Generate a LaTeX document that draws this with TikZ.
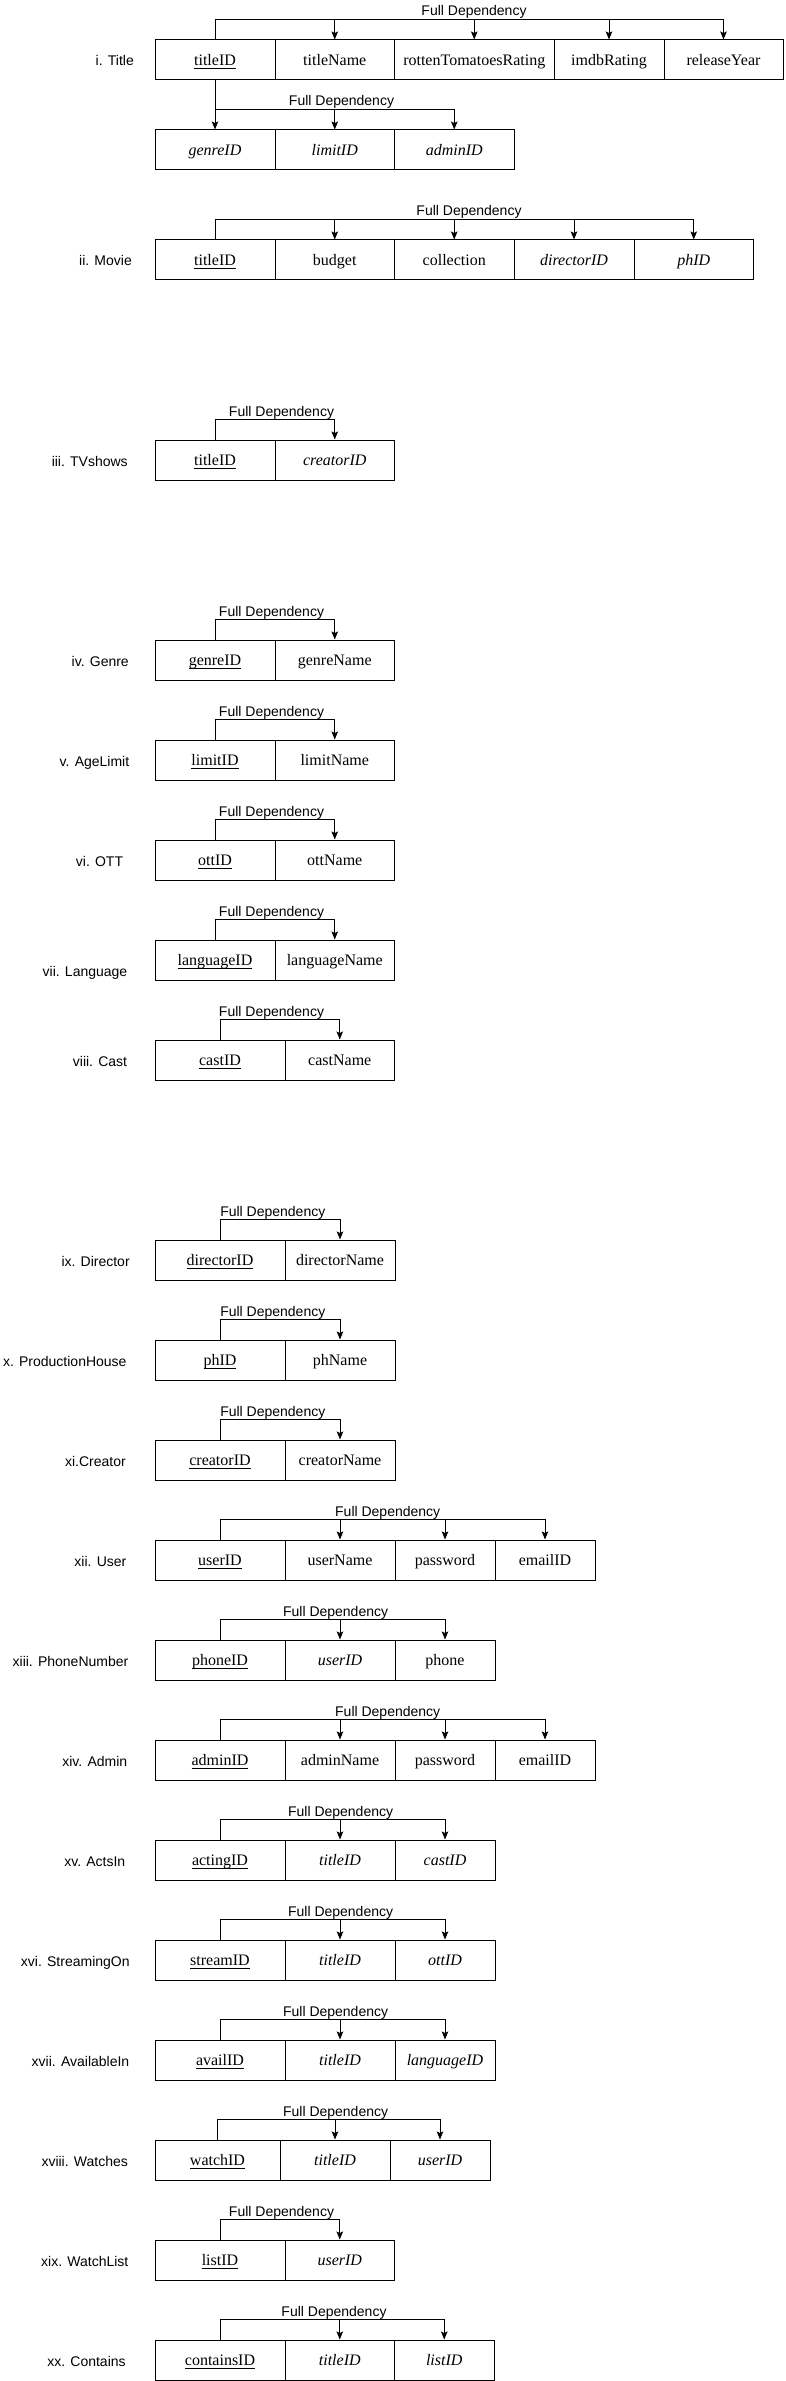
\documentclass[tikz,border=0pt]{standalone}
\usepackage{fontspec}
\setmainfont{Liberation Serif}
\newfontfamily\labfont{Liberation Sans}
\usetikzlibrary{arrows.meta}
\newcommand{\keyu}[1]{\setbox0=\hbox{#1}\makebox[0pt][l]{\rule[-3.3pt]{\wd0}{1pt}}\box0}
\tikzset{
  cell/.style={draw, line width=1pt, minimum height=40pt, inner sep=0pt, text height=11.4pt, text depth=0pt, font=\fontsize{16}{19}\selectfont},
  fd/.style={font=\labfont\fontsize{14}{16}\selectfont, inner sep=0pt, text height=10pt, text depth=0pt},
  rel/.style={font=\labfont\fontsize{14}{16}\selectfont, inner sep=0pt, text height=10pt, text depth=0pt},
  arr/.style={line width=1pt, -{Stealth[length=8pt,width=6.5pt,inset=1.5pt]}}
}
\begin{document}
\begin{tikzpicture}[x=1pt,y=-1pt]
\fill[white] (0,0) rectangle (786,2381);
\useasboundingbox (0,0) rectangle (786,2381);

% i. Title
\node[rel] (relT) at (114.75,61) {i. Title};
\node[cell,minimum width=120pt] (Ta) at (215,60) {\keyu{titleID}};
\node[cell,minimum width=119.5pt] (Tb) at (334.75,60) {titleName};
\node[cell,minimum width=159.5pt] (Tc) at (474.25,60) {rottenTomatoesRating};
\node[cell,minimum width=110pt] (Td) at (609,60) {imdbRating};
\node[cell,minimum width=119pt] (Te) at (723.5,60) {releaseYear};
\node[fd] (fdT) at (474,11) {Full Dependency};
\draw[arr] (Ta.north) -- ++(0,-20) -| (Te.north);
\foreach \n in {Tb,Tc,Td} \draw[arr] ([yshift=20pt]\n.north) -- (\n.north);

\node[cell,minimum width=120pt] (Ua) at (215,150) {\textit{genreID}};
\node[cell,minimum width=119.5pt] (Ub) at (334.75,150) {\textit{limitID}};
\node[cell,minimum width=119.5pt] (Uc) at (454.25,150) {\textit{adminID}};
\node[fd] (fdU) at (341.5,101) {Full Dependency};
\draw[arr] (Ta.south) -- (Ua.north);
\draw[arr] ([yshift=20pt]Ua.north) -| (Uc.north);
\draw[arr] ([yshift=20pt]Ub.north) -- (Ub.north);

% ii. Movie
\node[rel] (relM) at (105.5,261) {ii. Movie};
\node[cell,minimum width=120pt] (Ma) at (215,260) {\keyu{titleID}};
\node[cell,minimum width=119.5pt] (Mb) at (334.75,260) {budget};
\node[cell,minimum width=119.5pt] (Mc) at (454.25,260) {collection};
\node[cell,minimum width=120pt] (Md) at (574,260) {\textit{directorID}};
\node[cell,minimum width=119.5pt] (Me) at (693.75,260) {\textit{phID}};
\node[fd] (fdM) at (469,211) {Full Dependency};
\draw[arr] (Ma.north) -- ++(0,-20) -| (Me.north);
\foreach \n in {Mb,Mc,Md} \draw[arr] ([yshift=20pt]\n.north) -- (\n.north);

% iii. TVshows
\node[rel] (relV) at (89.75,461) {iii. TVshows};
\node[cell,minimum width=120pt] (Va) at (215,460) {\keyu{titleID}};
\node[cell,minimum width=119.5pt] (Vb) at (334.75,460) {\textit{creatorID}};
\node[fd] (fdV) at (281.5,411) {Full Dependency};
\draw[arr] (Va.north) -- ++(0,-20) -| (Vb.north);

% iv. Genre
\node[rel] (relG) at (100.25,661) {iv. Genre};
\node[cell,minimum width=120pt] (Ga) at (215,660) {\keyu{genreID}};
\node[cell,minimum width=119.5pt] (Gb) at (334.75,660) {genreName};
\node[fd] (fdG) at (271.5,611) {Full Dependency};
\draw[arr] (Ga.north) -- ++(0,-20) -| (Gb.north);

% v. AgeLimit
\node[rel] (relL) at (94.5,761) {v. AgeLimit};
\node[cell,minimum width=120pt] (La) at (215,760) {\keyu{limitID}};
\node[cell,minimum width=119.5pt] (Lb) at (334.75,760) {limitName};
\node[fd] (fdL) at (271.5,711) {Full Dependency};
\draw[arr] (La.north) -- ++(0,-20) -| (Lb.north);

% vi. OTT
\node[rel] (relO) at (99.5,861) {vi. OTT};
\node[cell,minimum width=120pt] (Oa) at (215,860) {\keyu{ottID}};
\node[cell,minimum width=119.5pt] (Ob) at (334.75,860) {ottName};
\node[fd] (fdO) at (271.5,811) {Full Dependency};
\draw[arr] (Oa.north) -- ++(0,-20) -| (Ob.north);

% vii. Language
\node[rel] (relN) at (85,971.5) {vii. Language};
\node[cell,minimum width=120pt] (Na) at (215,960) {\keyu{languageID}};
\node[cell,minimum width=119.5pt] (Nb) at (334.75,960) {languageName};
\node[fd] (fdN) at (271.5,911) {Full Dependency};
\draw[arr] (Na.north) -- ++(0,-20) -| (Nb.north);

% viii. Cast
\node[rel] (relC) at (100,1061) {viii. Cast};
\node[cell,minimum width=130pt] (Ca) at (220,1060) {\keyu{castID}};
\node[cell,minimum width=109.5pt] (Cb) at (339.75,1060) {castName};
\node[fd] (fdC) at (271.5,1011) {Full Dependency};
\draw[arr] (Ca.north) -- ++(0,-20) -| (Cb.north);

% ix. Director
\node[rel] (relD) at (95.6,1261) {ix. Director};
\node[cell,minimum width=130pt] (Da) at (220,1260) {\keyu{directorID}};
\node[cell,minimum width=110pt] (Db) at (340,1260) {directorName};
\node[fd] (fdD) at (272.8,1211) {Full Dependency};
\draw[arr] (Da.north) -- ++(0,-20) -| (Db.north);

% x. ProductionHouse
\node[rel] (relP) at (64.8,1361) {x. ProductionHouse};
\node[cell,minimum width=130pt] (Pa) at (220,1360) {\keyu{phID}};
\node[cell,minimum width=110pt] (Pb) at (340,1360) {phName};
\node[fd] (fdP) at (272.8,1311) {Full Dependency};
\draw[arr] (Pa.north) -- ++(0,-20) -| (Pb.north);

% xi. Creator
\node[rel] (relR) at (95.4,1461) {xi.Creator};
\node[cell,minimum width=130pt] (Ra) at (220,1460) {\keyu{creatorID}};
\node[cell,minimum width=110pt] (Rb) at (340,1460) {creatorName};
\node[fd] (fdR) at (272.8,1411) {Full Dependency};
\draw[arr] (Ra.north) -- ++(0,-20) -| (Rb.north);

% xii. User
\node[rel] (relS) at (100.4,1561) {xii. User};
\node[cell,minimum width=130pt] (Sa) at (220,1560) {\keyu{userID}};
\node[cell,minimum width=110pt] (Sb) at (340,1560) {userName};
\node[cell,minimum width=100pt] (Sc) at (445,1560) {password};
\node[cell,minimum width=100pt] (Sd) at (545,1560) {emailID};
\node[fd] (fdS) at (387.7,1511) {Full Dependency};
\draw[arr] (Sa.north) -- ++(0,-20) -| (Sd.north);
\foreach \n in {Sb,Sc} \draw[arr] ([yshift=20pt]\n.north) -- (\n.north);

% xiii. PhoneNumber
\node[rel] (relH) at (70.5,1661) {xiii. PhoneNumber};
\node[cell,minimum width=130pt] (Ha) at (220,1660) {\keyu{phoneID}};
\node[cell,minimum width=110pt] (Hb) at (340,1660) {\textit{userID}};
\node[cell,minimum width=100pt] (Hc) at (445,1660) {phone};
\node[fd] (fdH) at (335.6,1611) {Full Dependency};
\draw[arr] (Ha.north) -- ++(0,-20) -| (Hc.north);
\draw[arr] ([yshift=20pt]Hb.north) -- (Hb.north);

% xiv. Admin
\node[rel] (relA) at (94.8,1761) {xiv. Admin};
\node[cell,minimum width=130pt] (Aa) at (220,1760) {\keyu{adminID}};
\node[cell,minimum width=110pt] (Ab) at (340,1760) {adminName};
\node[cell,minimum width=100pt] (Ac) at (445,1760) {password};
\node[cell,minimum width=100pt] (Ad) at (545,1760) {emailID};
\node[fd] (fdA) at (387.7,1711) {Full Dependency};
\draw[arr] (Aa.north) -- ++(0,-20) -| (Ad.north);
\foreach \n in {Ab,Ac} \draw[arr] ([yshift=20pt]\n.north) -- (\n.north);

% xv. ActsIn
\node[rel] (relI) at (94.8,1861) {xv. ActsIn};
\node[cell,minimum width=130pt] (Ia) at (220,1860) {\keyu{actingID}};
\node[cell,minimum width=110pt] (Ib) at (340,1860) {\textit{titleID}};
\node[cell,minimum width=100pt] (Ic) at (445,1860) {\textit{castID}};
\node[fd] (fdI) at (340.6,1811) {Full Dependency};
\draw[arr] (Ia.north) -- ++(0,-20) -| (Ic.north);
\draw[arr] ([yshift=20pt]Ib.north) -- (Ib.north);

% xvi. StreamingOn
\node[rel] (relK) at (75.3,1961) {xvi. StreamingOn};
\node[cell,minimum width=130pt] (Ka) at (220,1960) {\keyu{streamID}};
\node[cell,minimum width=110pt] (Kb) at (340,1960) {\textit{titleID}};
\node[cell,minimum width=100pt] (Kc) at (445,1960) {\textit{ottID}};
\node[fd] (fdK) at (340.6,1911) {Full Dependency};
\draw[arr] (Ka.north) -- ++(0,-20) -| (Kc.north);
\draw[arr] ([yshift=20pt]Kb.north) -- (Kb.north);

% xvii. AvailableIn
\node[rel] (relE) at (80.5,2061) {xvii. AvailableIn};
\node[cell,minimum width=130pt] (Ea) at (220,2060) {\keyu{availID}};
\node[cell,minimum width=110pt] (Eb) at (340,2060) {\textit{titleID}};
\node[cell,minimum width=100pt] (Ec) at (445,2060) {\textit{languageID}};
\node[fd] (fdE) at (335.6,2011) {Full Dependency};
\draw[arr] (Ea.north) -- ++(0,-20) -| (Ec.north);
\draw[arr] ([yshift=20pt]Eb.north) -- (Eb.north);

% xviii. Watches
\node[rel] (relW) at (84.7,2161) {xviii. Watches};
\node[cell,minimum width=125pt] (Wa) at (217.5,2160) {\keyu{watchID}};
\node[cell,minimum width=110pt] (Wb) at (335,2160) {\textit{titleID}};
\node[cell,minimum width=100pt] (Wc) at (440,2160) {\textit{userID}};
\node[fd] (fdW) at (335.6,2111) {Full Dependency};
\draw[arr] (Wa.north) -- ++(0,-20) -| (Wc.north);
\draw[arr] ([yshift=20pt]Wb.north) -- (Wb.north);

% xix. WatchList
\node[rel] (relX) at (84.75,2261) {xix. WatchList};
\node[cell,minimum width=130pt] (Xa) at (220,2260) {\keyu{listID}};
\node[cell,minimum width=109.5pt] (Xb) at (339.75,2260) {\textit{userID}};
\node[fd] (fdX) at (281.5,2211) {Full Dependency};
\draw[arr] (Xa.north) -- ++(0,-20) -| (Xb.north);

% xx. Contains
\node[rel] (relZ) at (86.5,2361) {xx. Contains};
\node[cell,minimum width=130pt] (Za) at (220,2360) {\keyu{containsID}};
\node[cell,minimum width=109.5pt] (Zb) at (339.75,2360) {\textit{titleID}};
\node[cell,minimum width=99.5pt] (Zc) at (444.25,2360) {\textit{listID}};
\node[fd] (fdZ) at (334,2311) {Full Dependency};
\draw[arr] (Za.north) -- ++(0,-20) -| (Zc.north);
\draw[arr] ([yshift=20pt]Zb.north) -- (Zb.north);
\end{tikzpicture}
\end{document}
